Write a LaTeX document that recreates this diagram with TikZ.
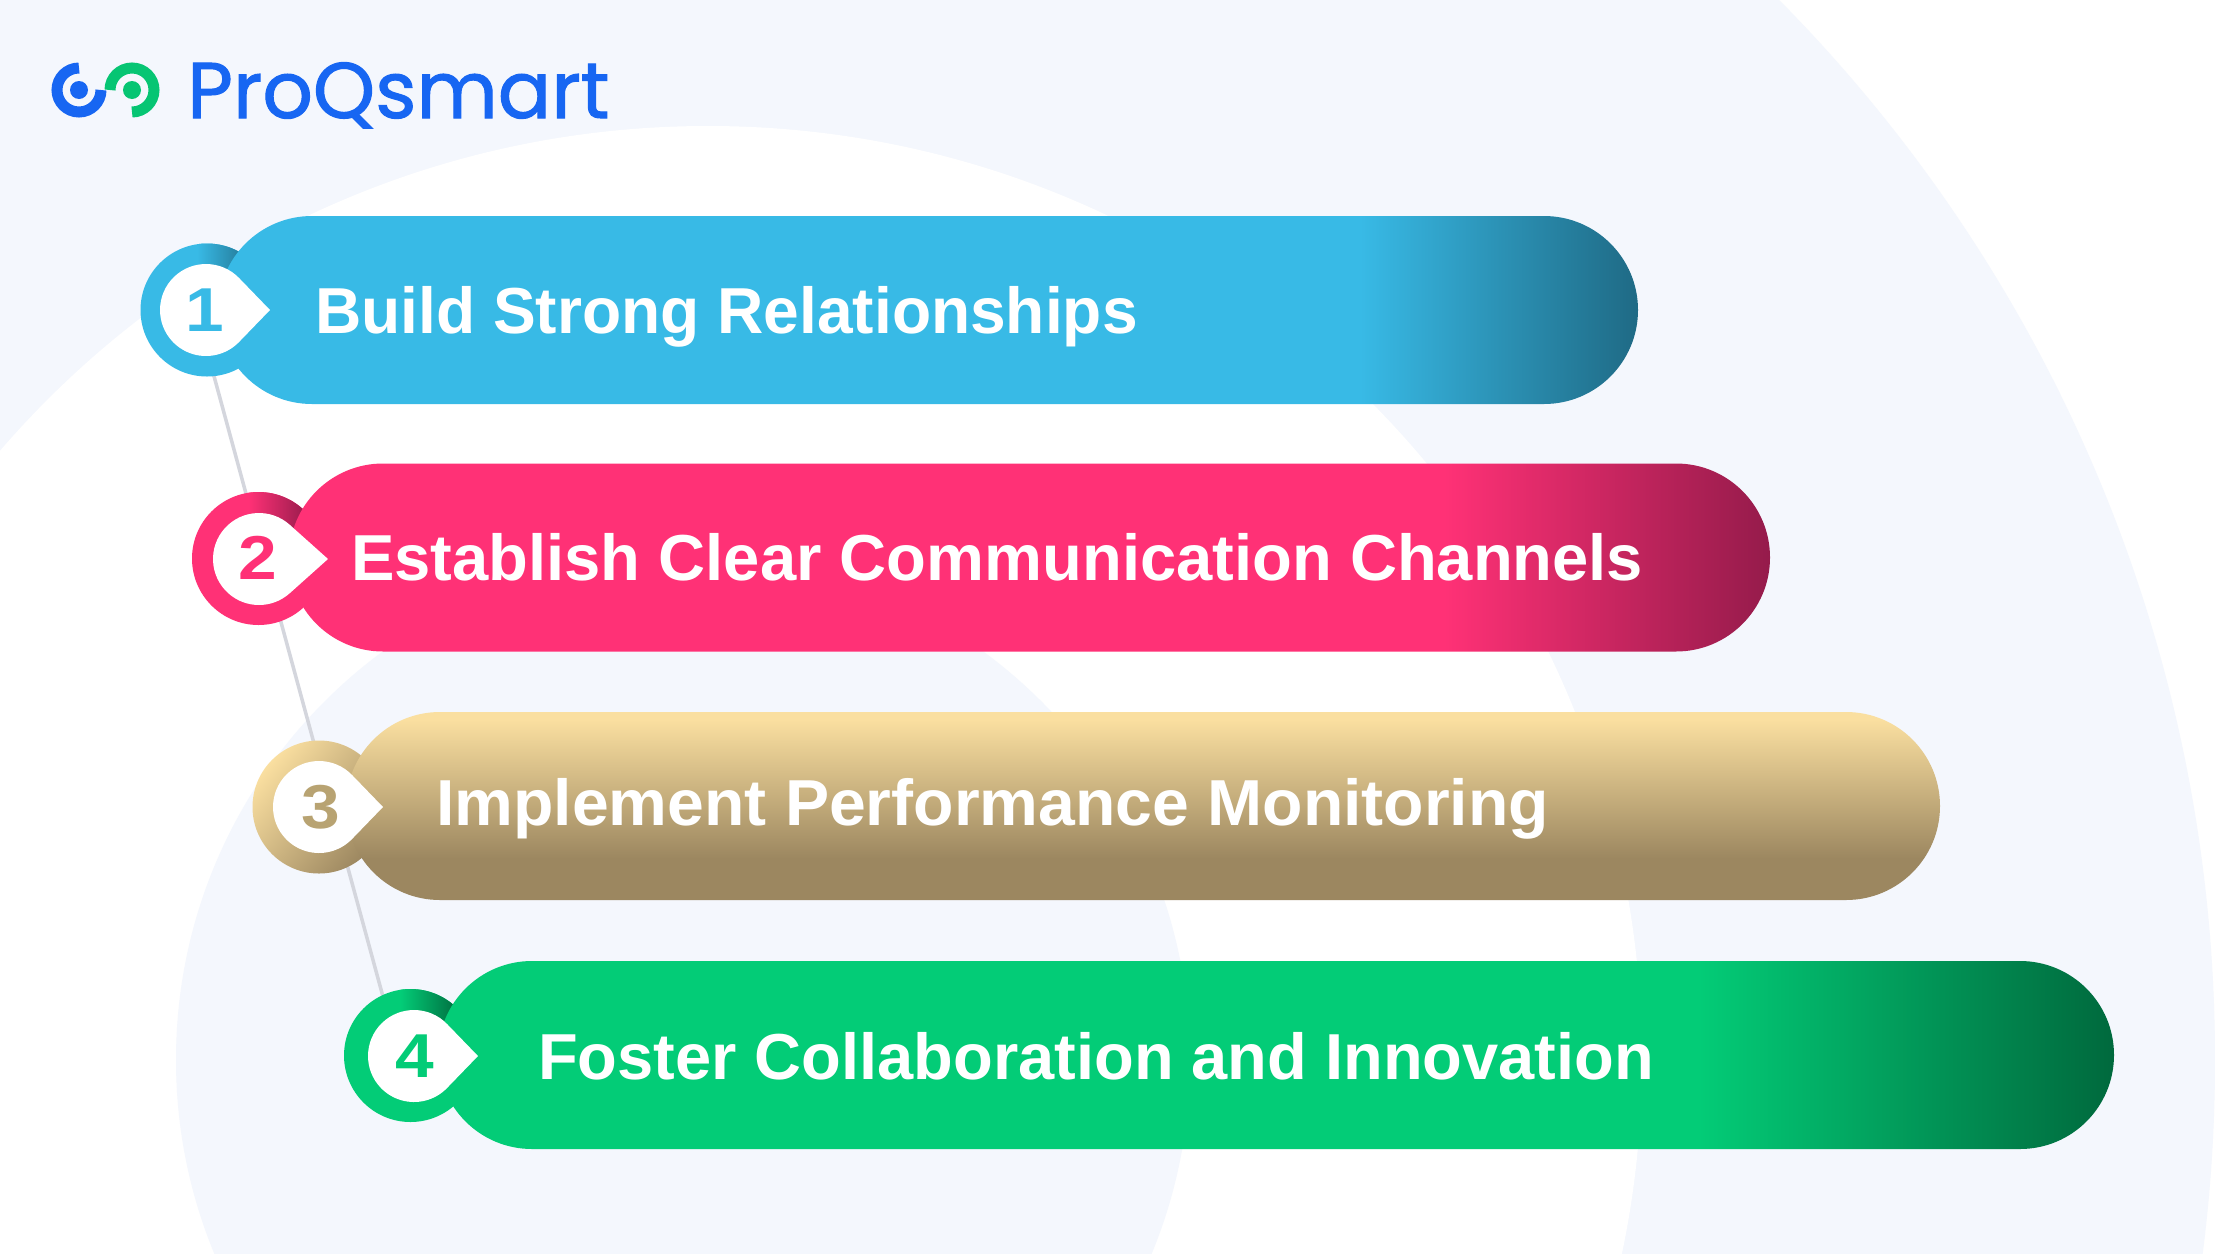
\documentclass[tikz,border=0pt]{standalone}
\usepackage{fontspec}
\setmainfont{Liberation Sans}
\newfontfamily\logofont[FakeBold=1.3]{Poppins}
\usetikzlibrary{shapes.misc}
\definecolor{bgtint}{HTML}{F4F7FD}
\definecolor{skyA}{HTML}{38BAE6}
\definecolor{skyB}{HTML}{1F6A85}
\definecolor{roseA}{HTML}{FF3176}
\definecolor{roseB}{HTML}{951B4B}
\definecolor{sandA}{HTML}{FADFA0}
\definecolor{sandB}{HTML}{9C8760}
\definecolor{sandN}{HTML}{B8A372}
\definecolor{leafA}{HTML}{03CC77}
\definecolor{leafB}{HTML}{00693D}
\definecolor{logoblue}{HTML}{1766F2}
\definecolor{logogreen}{HTML}{06C573}
\definecolor{linkgray}{HTML}{D4D6DD}
\pgfdeclarehorizontalshading{pillsky}{100bp}{color(0bp)=(skyA); color(65.2bp)=(skyA); color(75bp)=(skyB); color(100bp)=(skyB)}
\pgfdeclarehorizontalshading{pillrose}{100bp}{color(0bp)=(roseA); color(64bp)=(roseA); color(75bp)=(roseB); color(100bp)=(roseB)}
\pgfdeclareverticalshading{pillsand}{100bp}{color(0bp)=(sandB); color(36bp)=(sandB); color(73bp)=(sandA); color(100bp)=(sandA)}
\pgfdeclarehorizontalshading{pillleaf}{100bp}{color(0bp)=(leafA); color(62.6bp)=(leafA); color(75bp)=(leafB); color(100bp)=(leafB)}
\tikzset{
  pillbox/.style={rounded rectangle, minimum height=188pt, inner sep=0pt, draw=none},
  ringbox/.style={circle, minimum size=133pt, inner sep=0pt, draw=none},
  pilltext/.style={anchor=base west, inner sep=0pt, text=white, font=\fontsize{65}{78}\selectfont\bfseries},
  numtext/.style={inner sep=0pt, font=\fontsize{62}{74}\selectfont\bfseries},
  logoarc/.style={line width=11pt},
  linkline/.style={draw=linkgray, line width=3.5pt}
}
\newcommand\dropshape[3]{%
  \begin{scope}[shift={(#1,#2)}]
    \pgfmathsetmacro\tang{acos(46/#3)}
    \fill[white] (\tang:46pt) arc[start angle=\tang, delta angle={360-2*\tang}, radius=46pt] -- (#3pt,0pt) -- cycle;
  \end{scope}}
\newcommand\ringglow[4]{%
  \begin{scope}
    \clip (#1,#2) circle[radius=66.5pt];
    \shade[left color=#3, right color=#4] ({#1-10},{#2-67}) rectangle ({#1+50},{#2-15});
  \end{scope}}
\begin{document}
\begin{tikzpicture}[x=1pt,y=-1pt]
\useasboundingbox (0,0) rectangle (2215,1253);
\begin{scope}
  \clip (0,0) rectangle (2215,1253);
  \fill[white] (0,0) rectangle (2215,1253);
  \fill[bgtint] (708,1060) circle[radius=1507pt];
  \fill[white] (708,1060) circle[radius=934pt];
  \fill[bgtint] (683,1060) circle[radius=507pt];
\end{scope}
% logo
\draw[logoarc, logoblue] (79,68) arc[start angle=90, delta angle=270, radius=22pt];
\draw[logoarc, logogreen] (110,90) arc[start angle=180, delta angle=-270, radius=22pt];
\fill[logoblue] (79,90) circle[radius=9pt];
\fill[logogreen] (132,90) circle[radius=9pt];
\node[anchor=base west, inner sep=0pt, text=logoblue, font=\logofont\fontsize{79}{92}\selectfont] (logo) at (187,118) {ProQsmart};
% connector endpoints and rings
\coordinate (la) at (196,310);
\coordinate (lb) at (399,1055.5);
\draw[linkline] (la) -- (lb);
\node[ringbox, fill=skyA] (r1) at (207,310) {};
\node[ringbox, fill=roseA] (r2) at (258.5,558.5) {};
\node[ringbox, top color=sandA, bottom color=sandB, shading angle=50] (r3) at (319,807) {};
\node[ringbox, fill=leafA] (r4) at (410.5,1055.5) {};
\ringglow{207}{310}{skyA}{skyB}
\ringglow{258.5}{558.5}{roseA}{roseB}
\ringglow{410.5}{1055.5}{leafA}{leafB}
% pills
\node[pillbox, shade, shading=pillsky, minimum width=1420pt] (p1) at (928,310) {};
\node[pillbox, shade, shading=pillrose, minimum width=1481pt] (p2) at (1029.5,557.5) {};
\node[pillbox, shade, shading=pillsand, minimum width=1594pt] (p3) at (1143,806) {};
\node[pillbox, shade, shading=pillleaf, minimum width=1676pt] (p4) at (1276,1055) {};
% teardrops
\dropshape{206}{310}{64}
\dropshape{259}{559}{69}
\dropshape{319}{807}{64}
\dropshape{414}{1056}{64}
% numbers
\node[numtext, text=skyA] (n1) at (205,310) {\scalebox{1.12}[1]{1}};
\node[numtext, text=roseA] (n2) at (258,558) {\scalebox{1.12}[1]{2}};
\node[numtext, text=sandN] (n3) at (321,807) {\scalebox{1.12}[1]{3}};
\node[numtext, text=leafA] (n4) at (415,1056) {\scalebox{1.12}[1]{4}};
% texts
\node[pilltext] (t1) at (315,333) {\scalebox{0.986}[1]{Build Strong Relationships}};
\node[pilltext] (t2) at (351,580) {\scalebox{1.002}[1]{Establish Clear Communication Channels}};
\node[pilltext] (t3) at (436,825) {\scalebox{1.017}[1]{Implement Performance Monitoring}};
\node[pilltext] (t4) at (538,1079) {\scalebox{1.0}[1]{Foster Collaboration and Innovation}};
\end{tikzpicture}
\end{document}
